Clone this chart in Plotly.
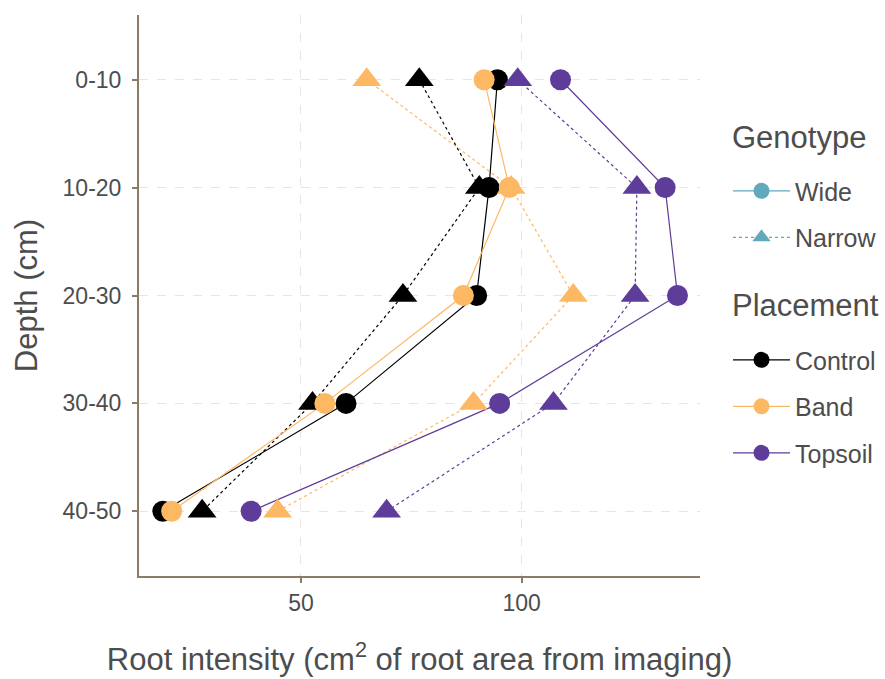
import plotly.graph_objects as go

depths = ["0-10", "10-20", "20-30", "30-40", "40-50"]
placements = ["Control", "Band", "Topsoil"]
genotypes = ["Wide", "Narrow"]

control_wide = [94.5, 92.6, 89.8, 60.2, 18.7]
control_narrow = [76.8, 90.4, 73.1, 52.6, 27.6]
band_wide = [91.5, 97.2, 86.8, 55.4, 20.7]
band_narrow = [64.9, 97.6, 111.7, 89.1, 44.7]
topsoil_wide = [108.8, 132.5, 135.3, 95.0, 38.7]
topsoil_narrow = [99.1, 126.1, 125.7, 107.2, 69.4]

x_ticks = [50, 100]

colors = {"Control": "#000000", "Band": "#FDB863", "Topsoil": "#5E3C99"}
geno_color = "#62A9BE"
symbols = {"Wide": "circle", "Narrow": "triangle-up"}
dashes = {"Wide": "solid", "Narrow": "dot"}
msize = {"Wide": 21, "Narrow": 25}

series = {
    ("Control", "Wide"): control_wide,
    ("Control", "Narrow"): control_narrow,
    ("Band", "Wide"): band_wide,
    ("Band", "Narrow"): band_narrow,
    ("Topsoil", "Wide"): topsoil_wide,
    ("Topsoil", "Narrow"): topsoil_narrow,
}

FONT = "Liberation Sans, Arial, sans-serif"
TXT = "#4D4D4D"
AX = "#8C7B69"
GRID = "#EDE4DB"

fig = go.Figure()

# lines first
for (p, g), vals in series.items():
    fig.add_trace(go.Scatter(
        x=vals, y=depths, mode="lines",
        line=dict(color=colors[p], width=1.2, dash=dashes[g]),
        showlegend=False, hoverinfo="skip"))
# points
for (p, g), vals in series.items():
    fig.add_trace(go.Scatter(
        x=vals, y=depths, mode="markers",
        marker=dict(color=colors[p], symbol=symbols[g], size=msize[g], line=dict(width=0)),
        showlegend=False, name=f"{p} {g}"))

# legend entries: Genotype
for g in genotypes:
    fig.add_trace(go.Scatter(
        x=[None], y=[None], mode="lines+markers", name=g,
        line=dict(color=geno_color, width=1.2, dash=dashes[g]),
        marker=dict(color=geno_color, symbol=symbols[g], size=16),
        legend="legend", legendgroup="g_" + g, showlegend=True))
# legend entries: Placement
for p in placements:
    fig.add_trace(go.Scatter(
        x=[None], y=[None], mode="lines+markers", name=p,
        line=dict(color=colors[p], width=1.2),
        marker=dict(color=colors[p], symbol="circle", size=16),
        legend="legend2", legendgroup="p_" + p, showlegend=True))

fig.update_layout(
    width=885, height=679,
    margin=dict(l=139, r=185, t=15, b=103),
    plot_bgcolor="white", paper_bgcolor="white",
    font=dict(family=FONT, color=TXT, size=23),
    xaxis=dict(
        range=[13.3, 140.4], tickvals=x_ticks, automargin=False,
        showgrid=True, gridcolor=GRID, griddash="dash", gridwidth=1,
        showline=True, linecolor=AX, linewidth=2,
        ticks="outside", ticklen=5, tickcolor=AX, tickwidth=1.5,
        tickfont=dict(size=23, color=TXT), zeroline=False,
        title=dict(text="Root intensity (cm<sup>2</sup> of root area from imaging)",
                   font=dict(size=31, color=TXT), standoff=34),
    ),
    yaxis=dict(
        type="category", categoryorder="array", categoryarray=depths,
        range=[4.6, -0.6], automargin=False,
        showgrid=True, gridcolor=GRID, griddash="dash", gridwidth=1,
        showline=True, linecolor=AX, linewidth=2,
        ticks="outside", ticklen=5, tickcolor=AX, tickwidth=1.5,
        tickfont=dict(size=23, color=TXT), ticklabelstandoff=6,
        title=dict(text="Depth (cm)", font=dict(size=31, color=TXT), standoff=16),
    ),
    legend=dict(
        font=dict(size=25, color=TXT),
        xref="container", yref="container",
        x=0.8226, xanchor="left", y=0.7525, yanchor="top",
        itemwidth=57, tracegroupgap=11, bgcolor="rgba(0,0,0,0)",
    ),
    legend2=dict(
        font=dict(size=25, color=TXT),
        xref="container", yref="container",
        x=0.8226, xanchor="left", y=0.5035, yanchor="top",
        itemwidth=57, tracegroupgap=11, bgcolor="rgba(0,0,0,0)",
    ),
    annotations=[
        dict(text="Genotype", x=1.053, y=0.7825, xref="paper", yref="paper",
             xanchor="left", yanchor="middle", showarrow=False,
             font=dict(size=31, color=TXT, family=FONT)),
        dict(text="Placement", x=1.053, y=0.483, xref="paper", yref="paper",
             xanchor="left", yanchor="middle", showarrow=False,
             font=dict(size=31, color=TXT, family=FONT)),
    ],
)

fig.write_html("out.html")
